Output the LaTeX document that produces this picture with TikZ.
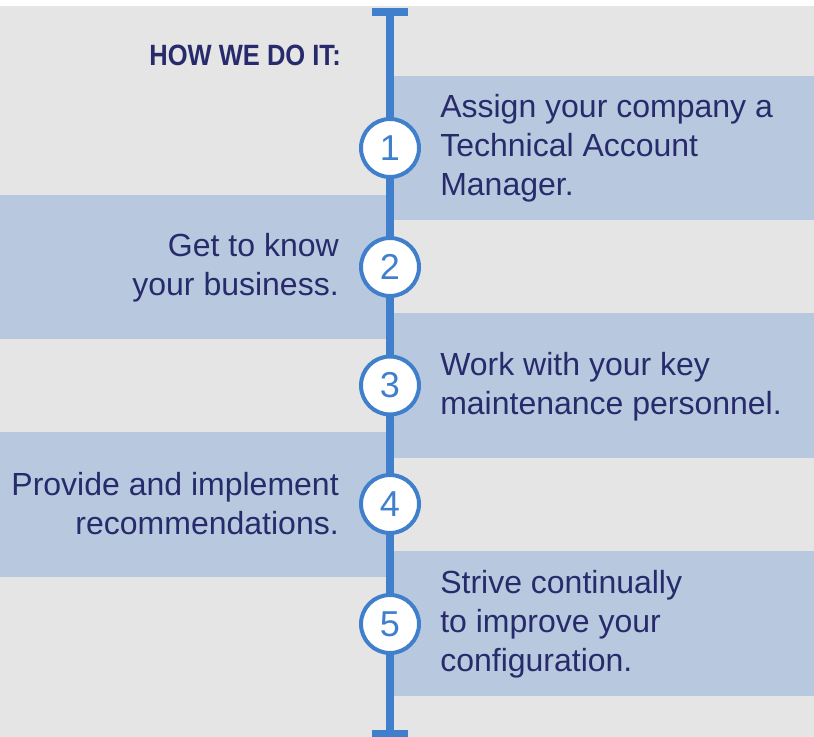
\documentclass[tikz,border=0pt]{standalone}
\usepackage{fontspec}
\setmainfont{Liberation Sans}
\definecolor{bg}{HTML}{E5E5E5}
\definecolor{band}{HTML}{B8C9DF}
\definecolor{tl}{HTML}{3F7FCC}
\definecolor{navy}{HTML}{282B6B}
\begin{document}
\begin{tikzpicture}[x=0.75pt,y=-0.75pt,
  numc/.style={circle, draw=tl, line width=3pt, fill=white, minimum size=43.5pt, inner sep=0pt,
    text=tl, font=\fontsize{27}{27}\selectfont},
  rtext/.style={anchor=west, align=left, text=navy, inner sep=0pt, font=\fontsize{24}{29.25}\selectfont},
  ltext/.style={anchor=east, align=right, text=navy, inner sep=0pt, font=\fontsize{24}{29.25}\selectfont},
  bandfill/.style={fill=band}]
\useasboundingbox (0,0) rectangle (814,737);
\fill[white] (0,0) rectangle (814,6);
\fill[bg] (0,6) rectangle (814,737);
% bands
\fill[bandfill] (394,76) rectangle (814,220);
\fill[bandfill] (0,195) rectangle (386,339);
\fill[bandfill] (394,313) rectangle (814,458);
\fill[bandfill] (0,432) rectangle (386,577);
\fill[bandfill] (394,551) rectangle (814,696);
% timeline
\coordinate (top) at (390,8);
\coordinate (bot) at (390,737);
\draw[tl, line width=6pt] (top) -- (bot);
\fill[tl] (372,8) rectangle (408,16);
\fill[tl] (372,730) rectangle (408,737);
% title
\node[anchor=base east, text=navy, inner sep=0pt, font=\bfseries\fontsize{22}{22}\selectfont] (title) at (341,66) {\scalebox{0.87}[1]{HOW WE DO IT:}};
% circles
\node[numc] (c1) at (390,148) {1};
\node[numc] (c2) at (390,267) {2};
\node[numc] (c3) at (390,385.5) {3};
\node[numc] (c4) at (390,504) {4};
\node[numc] (c5) at (390,624) {5};
% texts
\node[rtext] (t1) at (440,149) {\strut Assign your company a\\\strut Technical Account\\\strut Manager.};
\node[ltext] (t2) at (339,268) {\strut Get to know\\\strut your business.};
\node[rtext] (t3) at (440,387) {\strut Work with your key\\\strut maintenance personnel.};
\node[ltext] (t4) at (339,507) {\strut Provide and implement\\\strut recommendations.};
\node[rtext] (t5) at (440,625) {\strut Strive continually\\\strut to improve your\\\strut configuration.};
\end{tikzpicture}
\end{document}
